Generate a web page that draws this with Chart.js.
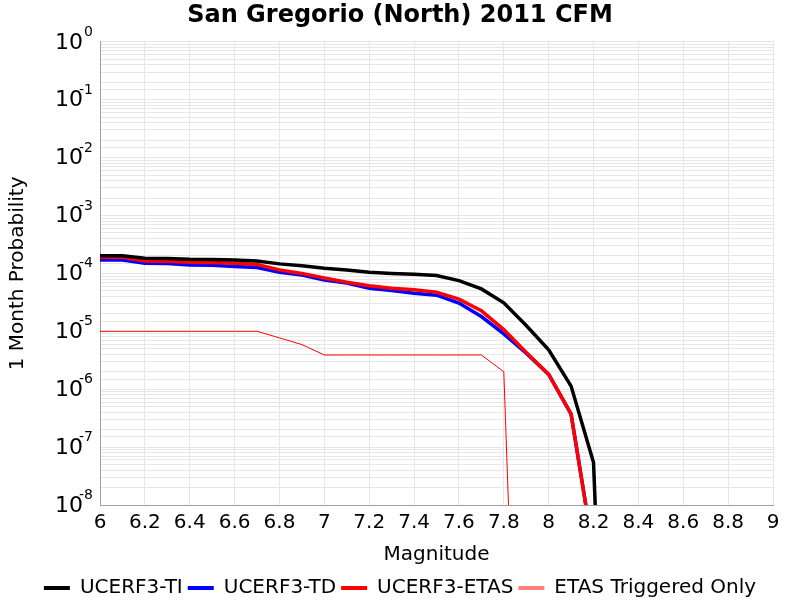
<!DOCTYPE html>
<html>
<head>
<meta charset="utf-8">
<script src="https://cdn.jsdelivr.net/npm/chart.js@4.4.1/dist/chart.umd.min.js"></script>
<style>
  html, body { margin: 0; padding: 0; background: #fff; }
  #wrap { width: 800px; height: 600px; }
</style>
</head>
<body>
<div id="wrap"><canvas id="cfmChart" width="800" height="600"></canvas></div>
<script>
// Magnitude bins (x values)
const magnitudes = [6.0, 6.1, 6.2, 6.3, 6.4, 6.5, 6.6, 6.7, 6.8, 6.9, 7.0, 7.1, 7.2, 7.3, 7.4, 7.5, 7.6, 7.7, 7.8, 7.9, 8.0, 8.1, 8.2, 8.3];

// 1 month probabilities
const ucerf3TI = [2.02e-4, 2.02e-4, 1.83e-4, 1.80e-4, 1.75e-4, 1.74e-4, 1.71e-4, 1.64e-4, 1.46e-4, 1.35e-4, 1.23e-4, 1.15e-4, 1.05e-4, 1.0e-4, 9.7e-5, 9.2e-5, 7.5e-5, 5.4e-5, 3.1e-5, 1.26e-5, 4.8e-6, 1.13e-6, 5.4e-8, 1e-17];
const ucerf3TD = [1.71e-4, 1.71e-4, 1.50e-4, 1.48e-4, 1.40e-4, 1.38e-4, 1.31e-4, 1.26e-4, 1.05e-4, 9.4e-5, 7.7e-5, 6.8e-5, 5.56e-5, 5.06e-5, 4.56e-5, 4.2e-5, 3.07e-5, 1.8e-5, 9.0e-6, 4.2e-6, 1.8e-6, 3.7e-7, 1.5e-9, 1e-17];
const ucerf3ETAS = [1.90e-4, 1.90e-4, 1.64e-4, 1.62e-4, 1.56e-4, 1.54e-4, 1.50e-4, 1.42e-4, 1.15e-4, 1.0e-4, 8.3e-5, 7.06e-5, 6.1e-5, 5.56e-5, 5.2e-5, 4.75e-5, 3.6e-5, 2.26e-5, 1.07e-5, 4.3e-6, 1.8e-6, 3.7e-7, 1.5e-9, 1e-17];
const etasTriggered = [1e-5, 1e-5, 1e-5, 1e-5, 1e-5, 1e-5, 1e-5, 1e-5, 7.7e-6, 5.9e-6, 3.9e-6, 3.9e-6, 3.9e-6, 3.9e-6, 3.9e-6, 3.9e-6, 3.9e-6, 3.9e-6, 2.0e-6, 2e-17, 2e-17, 2e-17, 2e-17, 2e-17];

const seriesNames = ['UCERF3-TI', 'UCERF3-TD', 'UCERF3-ETAS', 'ETAS Triggered Only'];
const seriesColors = ['#000000', '#0000ff', '#ff0000', '#ff0000'];
const legendColors = ['#000000', '#0000ff', '#ff0000', '#ff8080'];
const seriesWidths = [3.5, 3.5, 3.5, 1];

const xTicks = [6, 6.2, 6.4, 6.6, 6.8, 7, 7.2, 7.4, 7.6, 7.8, 8, 8.2, 8.4, 8.6, 8.8, 9];
const yDecades = [0, -1, -2, -3, -4, -5, -6, -7, -8];

const allSeries = [ucerf3TI, ucerf3TD, ucerf3ETAS, etasTriggered];
// red drawn above blue
const drawOrder = [1, 3, 2, 0];

// "10" with a raised exponent, like the original axis
const powerLabels = {
    id: 'powerLabels',
    afterDraw(chart) {
        const y = chart.scales.y;
        const c = chart.ctx;
        c.save();
        c.fillStyle = '#000';
        c.textAlign = 'right';
        yDecades.forEach(e => {
            const py = y.getPixelForValue(Math.pow(10, e));
            c.font = '22px "DejaVu Sans"';
            c.textBaseline = 'middle';
            c.fillText('10', y.right - 17, py + 1);
            c.font = '14px "DejaVu Sans"';
            c.textBaseline = 'alphabetic';
            c.fillText(String(e), y.right - 7, py - 6);
        });
        c.restore();
    }
};

const ctx = document.getElementById('cfmChart').getContext('2d');
new Chart(ctx, {
    type: 'line',
    data: {
        datasets: allSeries.map((vals, i) => ({
            label: seriesNames[i],
            data: magnitudes.map((m, k) => ({ x: m, y: vals[k] })),
            borderColor: seriesColors[i],
            backgroundColor: seriesColors[i],
            borderWidth: seriesWidths[i],
            pointRadius: 0,
            tension: 0,
            fill: false,
            order: drawOrder[i]
        }))
    },
    options: {
        responsive: false,
        animation: false,
        layout: { padding: { left: 0, right: 0, top: 0, bottom: -8 } },
        plugins: {
            title: {
                display: true,
                text: 'San Gregorio (North) 2011 CFM',
                color: '#000',
                font: { family: 'DejaVu Sans', size: 24, weight: 'bold' },
                padding: { top: 1, bottom: 12 }
            },
            legend: {
                position: 'bottom',
                labels: {
                    color: '#000',
                    font: { family: 'DejaVu Sans', size: 20 },
                    boxWidth: 26,
                    boxHeight: 4,
                    padding: 5,
                    generateLabels: () => seriesNames.map((name, i) => ({
                        text: name,
                        fillStyle: legendColors[i],
                        strokeStyle: legendColors[i],
                        lineWidth: 0,
                        datasetIndex: i
                    }))
                }
            },
            tooltip: { enabled: false }
        },
        scales: {
            x: {
                type: 'linear',
                min: 6,
                max: 9,
                afterBuildTicks: scale => { scale.ticks = xTicks.map(v => ({ value: v })); },
                ticks: {
                    color: '#000',
                    font: { family: 'DejaVu Sans', size: 20 },
                    maxRotation: 0,
                    autoSkip: false,
                    padding: 6,
                    callback: v => String(+v.toFixed(1))
                },
                grid: { color: '#e6e6e6', drawTicks: false },
                border: { color: '#a0a0a0' },
                title: {
                    display: true,
                    text: 'Magnitude',
                    color: '#000',
                    font: { family: 'DejaVu Sans', size: 20 },
                    padding: { top: 2, bottom: 6 }
                }
            },
            y: {
                type: 'logarithmic',
                min: 1e-8,
                max: 1,
                afterFit: scale => { scale.width = 100; },
                ticks: {
                    autoSkip: false,
                    callback: () => ''
                },
                grid: { color: '#e6e6e6', drawTicks: false },
                border: { color: '#a0a0a0' },
                title: {
                    display: true,
                    text: '1 Month Probability',
                    color: '#000',
                    font: { family: 'DejaVu Sans', size: 20 },
                    padding: { top: 6, bottom: 4 }
                }
            },
            // empty right margin so title and legend stay centred on the page
            rightGap: {
                type: 'linear',
                position: 'right',
                display: true,
                afterFit: scale => { scale.width = 27; },
                ticks: { display: false },
                grid: { display: false, drawTicks: false },
                border: { display: false }
            }
        }
    },
    plugins: [powerLabels]
});
</script>
</body>
</html>
